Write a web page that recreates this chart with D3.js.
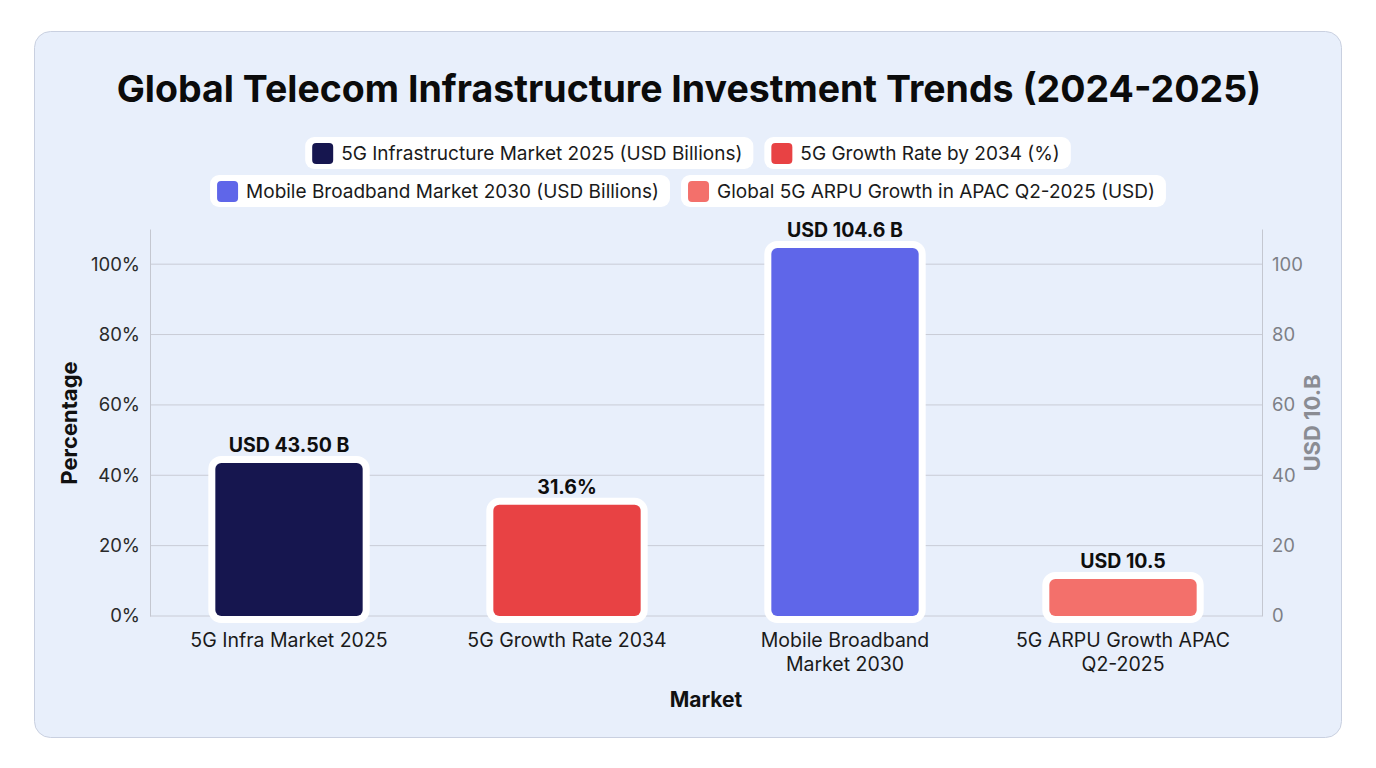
<!DOCTYPE html>
<html>
<head>
<meta charset="utf-8">
<script src="https://cdn.jsdelivr.net/npm/d3@7"></script>
<style>
  html, body { margin: 0; padding: 0; background: #ffffff; }
  svg { display: block; font-family: Inter, 'Noto Sans', sans-serif; }
</style>
</head>
<body>
<svg id="chart"></svg>
<script>
'use strict'

const categories = ['5G Infra Market 2025', '5G Growth Rate 2034', 'Mobile Broadband|Market 2030', '5G ARPU Growth APAC|Q2-2025']
const values = [43.5, 31.6, 104.6, 10.5]
const valueLabels = ['USD 43.50 B', '31.6%', 'USD 104.6 B', 'USD 10.5']
const barColors = ['#16164f', '#e84244', '#5f66e9', '#f3706b']
const seriesNames = [
  '5G Infrastructure Market 2025 (USD Billions)',
  '5G Growth Rate by 2034 (%)',
  'Mobile Broadband Market 2030 (USD Billions)',
  'Global 5G ARPU Growth in APAC Q2-2025 (USD)'
]
const yTicks = [0, 20, 40, 60, 80, 100]

const width = 1376
const height = 768
const margin = { top: 229, right: 114, bottom: 152, left: 150 }

const svg = d3.select('#chart')
  .attr('width', width)
  .attr('height', height)

// card background
svg.append('rect')
  .attr('x', 34.5).attr('y', 31.5)
  .attr('width', 1307).attr('height', 706)
  .attr('rx', 16)
  .attr('fill', '#e8effb')
  .attr('stroke', '#c9d0e0')

svg.append('text')
  .attr('x', 689).attr('y', 102)
  .attr('text-anchor', 'middle')
  .attr('font-size', 37.5).attr('font-weight', 700)
  .attr('fill', '#0b0b0b')
  .text('Global Telecom Infrastructure Investment Trends (2024-2025)')

// legend, two rows of pills
const legendRows = [[0, 1], [2, 3]]
const legendY = [153, 191]
const legendG = svg.append('g')
legendRows.forEach((row, r) => {
  const items = row.map(i => {
    const g = legendG.append('g')
    const t = g.append('text')
      .attr('font-size', 19)
      .attr('fill', '#1a1a1a')
      .attr('dominant-baseline', 'central')
      .attr('x', 36)
      .text(seriesNames[i])
    const w = t.node().getComputedTextLength() + 36 + 11
    g.insert('rect', 'text')
      .attr('x', 0).attr('y', -16).attr('width', w).attr('height', 32)
      .attr('rx', 9).attr('fill', '#ffffff')
    g.append('rect')
      .attr('x', 7).attr('y', -10).attr('width', 21).attr('height', 21)
      .attr('rx', 4).attr('fill', barColors[i])
    return { g, w }
  })
  const gap = 11
  const total = d3.sum(items, d => d.w) + gap * (items.length - 1)
  let x = 688 - total / 2
  items.forEach(d => {
    d.g.attr('transform', `translate(${x},${legendY[r]})`)
    x += d.w + gap
  })
})

const innerW = width - margin.left - margin.right
const innerH = height - margin.top - margin.bottom
const g = svg.append('g').attr('transform', `translate(${margin.left},${margin.top})`)

const x = d3.scaleBand().domain(categories).range([0, innerW]).paddingInner(0.47).paddingOuter(0.235)
const y = d3.scaleLinear().domain([0, 110]).range([innerH, 0])

// gridlines
g.append('g')
  .selectAll('line')
  .data(yTicks)
  .join('line')
  .attr('x1', 0).attr('x2', innerW)
  .attr('y1', d => y(d)).attr('y2', d => y(d))
  .attr('stroke', '#c9ccd6').attr('stroke-width', 1)

// left axis
const yLeft = g.append('g')
  .call(d3.axisLeft(y).tickValues(yTicks).tickFormat(d => d + '%').tickSize(0).tickPadding(10))
yLeft.select('.domain').attr('stroke', '#c4c7d0')
yLeft.selectAll('text').attr('font-size', 18.5).attr('fill', '#2a2a2a').attr('font-family', 'Inter, sans-serif')

// right axis
const yRight = g.append('g')
  .attr('transform', `translate(${innerW},0)`)
  .call(d3.axisRight(y).tickValues(yTicks).tickSize(0).tickPadding(10))
yRight.select('.domain').attr('stroke', '#c4c7d0')
yRight.selectAll('text').attr('font-size', 18.5).attr('fill', '#7d7f86').attr('font-family', 'Inter, sans-serif')

// bars: white outline underneath, fill on top
const bars = g.append('g')
bars.selectAll('rect.outline')
  .data(values)
  .join('rect')
  .attr('class', 'outline')
  .attr('x', (d, i) => x(categories[i]))
  .attr('y', d => y(d))
  .attr('width', x.bandwidth())
  .attr('height', d => innerH - y(d))
  .attr('rx', 6)
  .attr('fill', '#ffffff')
  .attr('stroke', '#ffffff')
  .attr('stroke-width', 14)

bars.selectAll('rect.bar')
  .data(values)
  .join('rect')
  .attr('class', 'bar')
  .attr('x', (d, i) => x(categories[i]))
  .attr('y', d => y(d))
  .attr('width', x.bandwidth())
  .attr('height', d => innerH - y(d))
  .attr('rx', 6)
  .attr('fill', (d, i) => barColors[i])

// value labels
g.append('g')
  .selectAll('text')
  .data(values)
  .join('text')
  .attr('x', (d, i) => x(categories[i]) + x.bandwidth() / 2)
  .attr('y', d => y(d) - 11)
  .attr('text-anchor', 'middle')
  .attr('font-size', 19.5).attr('font-weight', 700)
  .attr('fill', '#0e0e0e')
  .text((d, i) => valueLabels[i])

// category labels
const catG = g.append('g')
categories.forEach((c, i) => {
  const t = catG.append('text')
    .attr('x', x(c) + x.bandwidth() / 2)
    .attr('y', innerH + 31)
    .attr('text-anchor', 'middle')
    .attr('font-size', 19.5)
    .attr('fill', '#1a1a1a')
  c.split('|').forEach((line, k) => {
    t.append('tspan')
      .attr('x', x(c) + x.bandwidth() / 2)
      .attr('dy', k === 0 ? 0 : 24)
      .text(line)
  })
})

// axis titles
svg.append('text')
  .attr('x', margin.left + innerW / 2).attr('y', 707)
  .attr('text-anchor', 'middle')
  .attr('font-size', 21).attr('font-weight', 700)
  .attr('fill', '#111')
  .text('Market')

svg.append('text')
  .attr('transform', `translate(77,423) rotate(-90)`)
  .attr('text-anchor', 'middle')
  .attr('font-size', 22).attr('font-weight', 700)
  .attr('fill', '#111')
  .text('Percentage')

svg.append('text')
  .attr('transform', `translate(1320,423) rotate(-90)`)
  .attr('text-anchor', 'middle')
  .attr('font-size', 22).attr('font-weight', 700)
  .attr('fill', '#8a8c93')
  .text('USD 10.B')
</script>
</body>
</html>
